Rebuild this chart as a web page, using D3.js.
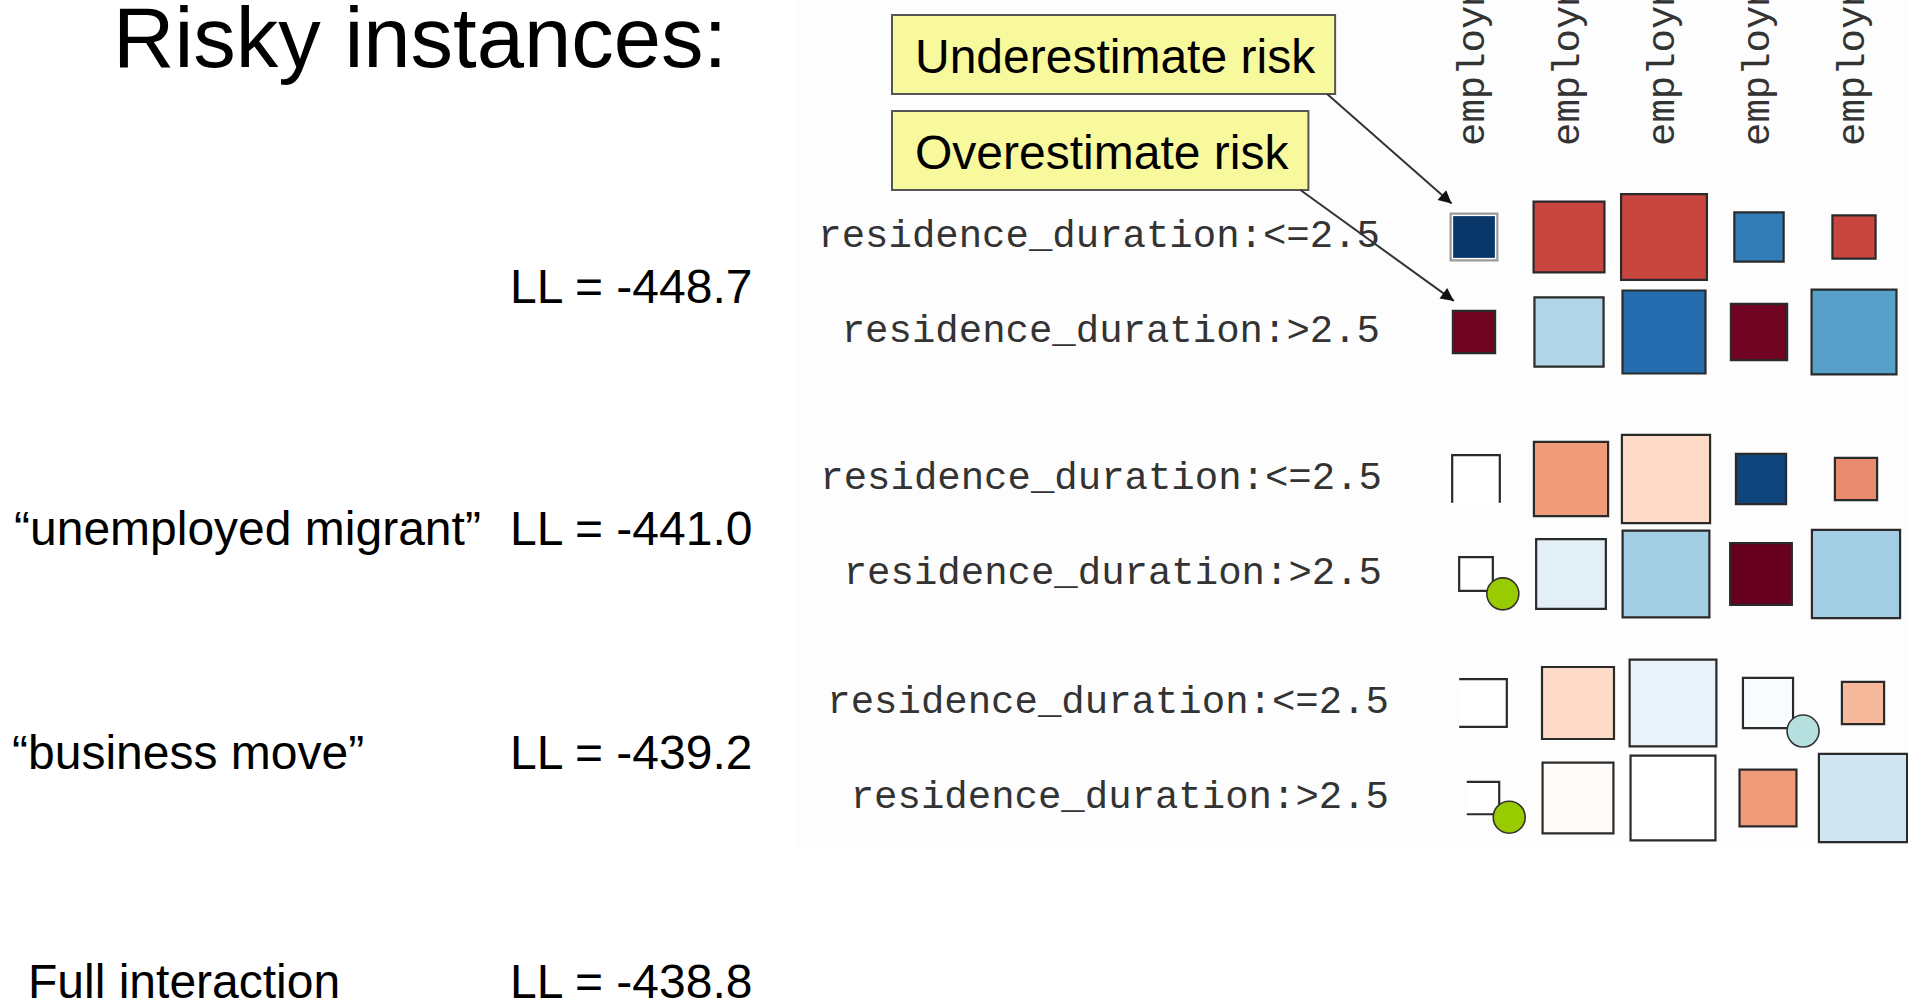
<!DOCTYPE html>
<html>
<head>
<meta charset="utf-8">
<script src="https://cdn.jsdelivr.net/npm/d3@7"></script>
<style>
  html, body { margin: 0; padding: 0; background: #fff; overflow: hidden; }
  svg { display: block; }
</style>
</head>
<body>
<div id="vis"></div>
<script>
var width  = 1908;
var height = 1000;

// models listed on the left, with their log-likelihood
var models = ["", "\u201cunemployed migrant\u201d", "\u201cbusiness move\u201d", "Full interaction"];
var logLik = [-448.7, -441.0, -439.2, -438.8];

// mosaic categories
var columns = ["employment:unemployed", "employment:<1", "employment:1<=X<4", "employment:4<=X<7", "employment:>=7"];
var rows    = ["residence_duration:<=2.5", "residence_duration:>2.5"];

// cell counts, one panel per model (rows x columns)
var counts1 = [[27, 62, 91, 30, 23], [22, 59, 85, 39, 89]];
var counts2 = [[28, 68, 96, 31, 22], [14, 60, 93, 47, 96]];
var counts3 = [[28, 64, 93, 31, 22], [13, 62, 89, 40, 96]];

// residuals (colour) for the same cells
var resid1 = [[3.9, -2.7, -2.7, 2.8, -2.7], [-3.9, 1.2, 3.1, -3.9, 2.2]];
var resid2 = [[0, -1.7, -0.8, 3.7, -1.9], [0, 0.5, 1.4, -4.0, 1.4]];
var resid3 = [[0, -0.8, 0.4, 0.1, -1.3], [0, -0.1, 0, -1.7, 0.8]];

// flagged cells: [panel, row, column, kind]
var flagged = [[1, 1, 0, "a"], [2, 0, 3, "b"], [2, 1, 0, "a"]];

// callouts pointing at panel 0, column 0
var callouts   = ["Underestimate risk", "Overestimate risk"];
var calloutRow = [0, 1];

var counts = [counts1, counts2, counts3];
var resids = [resid1, resid2, resid3];

// layout
var panelY  = [190, 432, 656, 885];
var panelDx = [0, 2, 9];
var nameX   = [16, 14, 12, 28];

var x    = d3.scalePoint().domain(columns).range([1474, 1854]);
var y    = d3.scalePoint().domain(rows).range([47, 142]);
var size = d3.scaleSqrt().domain([0, 100]).range([0, 90]);

var rdbu  = d3.schemeRdBu[11].map(function(c, i) { return i === 5 ? "#ffffff" : c; });
var color = d3.scaleLinear()
  .domain(d3.range(11).map(function(i) { return -4 + i * 0.8; }))
  .range(rdbu);

var markColor = { a: "#99cc00", b: "#b6dfe0" };
// sides left open on some empty cells
var openSide = { "1-0-0": "b", "2-0-0": "l", "2-1-0": "l" };

var sans = "'Liberation Sans', Arial, Helvetica, sans-serif";
var mono = "'Liberation Mono', 'Courier New', monospace";

var svg = d3.select("#vis").append("svg")
  .attr("width", width)
  .attr("height", height);

// faint backdrop of the mosaic panel
svg.append("rect")
  .attr("x", 795).attr("y", 0)
  .attr("width", width - 795).attr("height", 848)
  .attr("fill", "#fdfdfd");

svg.append("text")
  .attr("x", 113).attr("y", 67)
  .style("font-family", sans).style("font-size", "85px")
  .text("Risky instances:");

// model names and LL
var left = svg.append("g");
models.forEach(function(m, i) {
  var by = panelY[i] + 113;
  left.append("text")
    .attr("x", nameX[i]).attr("y", by)
    .style("font-family", sans).style("font-size", "48px")
    .text(m);
  left.append("text")
    .attr("x", 510).attr("y", by)
    .style("font-family", sans).style("font-size", "48px")
    .text("LL = " + logLik[i].toFixed(1));
});

// column headers, rotated, clipped by the top of the page
svg.append("g").selectAll("text")
  .data(columns)
  .enter().append("text")
  .attr("transform", function(d) { return "translate(" + x(d) + ",146)rotate(-90)"; })
  .attr("dominant-baseline", "central")
  .style("font-family", mono).style("font-size", "39px").style("fill", "#333")
  .text(function(d) { return d; });

var cells = [];
counts.forEach(function(panel, p) {
  panel.forEach(function(row, r) {
    row.forEach(function(n, c) {
      cells.push({
        p: p, r: r, c: c, n: n, res: resids[p][r][c],
        cx: x(columns[c]) + panelDx[p],
        cy: panelY[p] + y(rows[r]),
        s: size(n)
      });
    });
  });
});

function cellAt(p, r, c) {
  return cells.filter(function(d) { return d.p === p && d.r === r && d.c === c; })[0];
}

// row labels
counts.forEach(function(panel, p) {
  svg.append("g").selectAll("text")
    .data(rows)
    .enter().append("text")
    .attr("x", 1380 + panelDx[p])
    .attr("y", function(d) { return panelY[p] + y(d); })
    .attr("text-anchor", "end")
    .attr("dominant-baseline", "central")
    .style("font-family", mono).style("font-size", "39px").style("fill", "#333")
    .text(function(d) { return d; });
});

var g = svg.append("g");

g.selectAll("rect.cell")
  .data(cells)
  .enter().append("rect")
  .attr("class", "cell")
  .attr("x", function(d) { return d.cx - d.s / 2; })
  .attr("y", function(d) { return d.cy - d.s / 2; })
  .attr("width",  function(d) { return d.s; })
  .attr("height", function(d) { return d.s; })
  .attr("fill", function(d) { return color(d.res); })
  .attr("stroke", function(d) { return d.p === 0 && d.r === 0 && d.c === 0 ? "#fff" : "none"; })
  .attr("stroke-width", 5);

g.selectAll("path.edge")
  .data(cells)
  .enter().append("path")
  .attr("class", "edge")
  .attr("d", function(d) {
    var x0 = d.cx - d.s / 2, x1 = d.cx + d.s / 2,
        y0 = d.cy - d.s / 2, y1 = d.cy + d.s / 2;
    var open = openSide[d.p + "-" + d.r + "-" + d.c];
    if (open === "b") return "M" + x0 + "," + y1 + "V" + y0 + "H" + x1 + "V" + y1;
    if (open === "l") return "M" + x0 + "," + y0 + "H" + x1 + "V" + y1 + "H" + x0;
    return "M" + x0 + "," + y0 + "H" + x1 + "V" + y1 + "H" + x0 + "Z";
  })
  .attr("fill", "none")
  .attr("stroke", function(d) { return d.p === 0 && d.c === 0 && d.r === 0 ? "#999" : "#2a2a2a"; })
  .attr("stroke-width", 2.2);

// flagged markers at the lower right corner of the cell
g.selectAll("circle")
  .data(flagged)
  .enter().append("circle")
  .attr("cx", function(f) { var d = cellAt(f[0], f[1], f[2]); return d.cx + d.s / 2 + 10; })
  .attr("cy", function(f) { var d = cellAt(f[0], f[1], f[2]); return d.cy + d.s / 2 + 3; })
  .attr("r", 16)
  .attr("fill", function(f) { return markColor[f[3]]; })
  .attr("stroke", "#333")
  .attr("stroke-width", 1.6);

// callouts
svg.append("defs").append("marker")
  .attr("id", "head")
  .attr("viewBox", "0 0 10 10")
  .attr("refX", 10).attr("refY", 5)
  .attr("markerWidth", 17).attr("markerHeight", 13)
  .attr("markerUnits", "userSpaceOnUse")
  .attr("orient", "auto")
  .append("path")
  .attr("d", "M0,0L10,5L0,10z")
  .attr("fill", "#111");

var boxTop = [15, 111];
callouts.forEach(function(label, i) {
  var cg = svg.append("g");
  var box = cg.append("rect");
  var t = cg.append("text")
    .attr("x", 915).attr("y", boxTop[i] + 58)
    .style("font-family", sans).style("font-size", "48px")
    .text(label);
  var w = t.node().getComputedTextLength();
  var bx0 = 892, bx1 = 915 + w + 20, by1 = boxTop[i] + 79;
  box.attr("x", bx0).attr("y", boxTop[i])
    .attr("width", bx1 - bx0).attr("height", 79)
    .attr("fill", "#f8f99d")
    .attr("stroke", "#555")
    .attr("stroke-width", 2);
  var d = cellAt(0, calloutRow[i], 0);
  cg.append("line")
    .attr("x1", bx1 - 8).attr("y1", by1)
    .attr("x2", d.cx - d.s / 2 + 1).attr("y2", d.cy - d.s / 2 - 10)
    .attr("stroke", "#333")
    .attr("stroke-width", 2)
    .attr("marker-end", "url(#head)");
});
</script>
</body>
</html>
